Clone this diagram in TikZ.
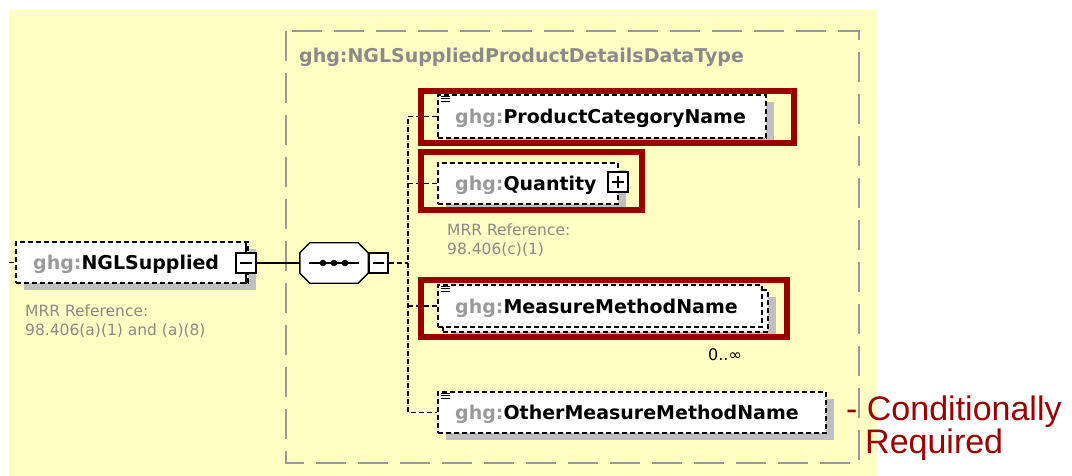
\documentclass[tikz,border=0pt]{standalone}
\usepackage{fontspec}
\setmainfont{DejaVu Sans}
\newfontfamily\arialf{Liberation Sans}
\usetikzlibrary{shadows}
\definecolor{bgyellow}{HTML}{FFFFC4}
\definecolor{hlred}{HTML}{990000}
\definecolor{shadegray}{HTML}{C0C0C0}
\definecolor{typegray}{HTML}{999999}
\definecolor{pfxgray}{HTML}{9A9A9A}
\definecolor{notegray}{HTML}{8A8A8A}
\newcommand\ghgpfx{\textcolor{pfxgray}{ghg:}}
\begin{document}
\begin{tikzpicture}[x=1pt,y=-1pt,
  elem/.style={rectangle, draw=black, line width=1.4pt, dash pattern=on 5pt off 3pt, fill=white, inner sep=0pt},
  shad/.style={drop shadow={shadow xshift=8pt, shadow yshift=-7pt, fill=shadegray, opacity=1}},
  elabel/.style={anchor=base west, inner sep=0pt, font=\bfseries\fontsize{19}{23}\selectfont},
  note/.style={anchor=north west, inner sep=0pt, align=left, text=notegray, font=\fontsize{15.5}{19}\selectfont},
  sq/.style={rectangle, draw=black, line width=1.4pt, fill=white, minimum width=20pt, minimum height=20pt, inner sep=0pt},
  minusbox/.style={sq, path picture={\draw[line width=1.4pt] ([xshift=4pt]path picture bounding box.west) -- ([xshift=-4pt]path picture bounding box.east);}},
  plusbox/.style={sq, path picture={\draw[line width=1.4pt] ([xshift=4pt]path picture bounding box.west) -- ([xshift=-4pt]path picture bounding box.east); \draw[line width=1.4pt] ([yshift=-4pt]path picture bounding box.north) -- ([yshift=4pt]path picture bounding box.south);}},
  seqbox/.style={rectangle, minimum width=68pt, minimum height=40pt, inner sep=0pt},
  conn/.style={line width=1.4pt, dash pattern=on 5pt off 3pt},
  solidconn/.style={line width=1.4pt},
  hl/.style={draw=hlred, line width=6pt},
  typebox/.style={draw=typegray, line width=2pt, dash pattern=on 30pt off 12pt},
  icon/.style={line width=1pt},
  redtext/.style={anchor=base west, inner sep=0pt, text=hlred, font=\arialf\fontsize{34}{33}\selectfont},
]
\useasboundingbox (0,0) rectangle (1072,476);
\fill[bgyellow] (9,10) rectangle (877,476);
\draw[typebox] (286,31) rectangle (859,463);
\node[anchor=base west, inner sep=0pt, text=notegray, font=\bfseries\fontsize{19}{23}\selectfont] (title) at (299,63) {ghg:NGLSuppliedProductDetailsDataType};

% NGLSupplied element
\node[elem, shad, minimum width=232pt, minimum height=41pt] (ngl) at (132,262.5) {};
\node[elabel] (ngllab) at (33,269.5) {\ghgpfx NGLSupplied};
\node[minusbox] (nglm) at (246,263) {};
\draw[solidconn] (nglm.north) -- (nglm.north |- ngl.north);
\draw[solidconn] (nglm.south) -- (nglm.south |- ngl.south);
\coordinate (nglin) at (9,262.5);
\draw[conn] (nglin) -- (ngl.west);
\node[note] (nglnote) at (25,305) {MRR Reference:\\98.406(a)(1) and (a)(8)};

% sequence compositor (octagon)
\node[seqbox] (seq) at (334,263) {};
\begin{scope}[shift={(9,9)}]
\fill[shadegray] ([xshift=10pt]seq.north west) -- ([xshift=-10pt]seq.north east) -- ([yshift=-10pt]seq.north east) -- ([yshift=10pt]seq.south east) -- ([xshift=-10pt]seq.south east) -- ([xshift=10pt]seq.south west) -- ([yshift=10pt]seq.south west) -- ([yshift=-10pt]seq.north west) -- cycle;
\end{scope}
\draw[line width=1.4pt, fill=white] ([xshift=10pt]seq.north west) -- ([xshift=-10pt]seq.north east) -- ([yshift=-10pt]seq.north east) -- ([yshift=10pt]seq.south east) -- ([xshift=-10pt]seq.south east) -- ([xshift=10pt]seq.south west) -- ([yshift=10pt]seq.south west) -- ([yshift=-10pt]seq.north west) -- cycle;
\draw[line width=1.4pt] ([xshift=9pt]seq.west) -- ([xshift=-9pt]seq.east);
\foreach \dx in {-11,0,11} \fill ([xshift=\dx pt]seq.center) circle (3.3pt);
\node[minusbox, minimum width=19pt] (seqm) at (378.5,263) {};
\draw[solidconn] (nglm.east) -- (seq.west);
\coordinate (trunk) at (408,263);
\draw[conn] (seqm.east) -- (trunk);

% children
\node[elem, shad, minimum width=328pt, minimum height=43pt] (pcn) at (602,116.5) {};
\node[elabel] (pcnlab) at (455,123.5) {\ghgpfx ProductCategoryName};

\node[elem, shad, minimum width=180pt, minimum height=41pt] (qty) at (528,183.5) {};
\node[elabel] (qtylab) at (455,190.5) {\ghgpfx Quantity};
\node[plusbox] (qtyp) at (618,182) {};
\node[note] (qtynote) at (447,224) {MRR Reference:\\98.406(c)(1)};

\node[elem, shad, minimum width=325pt, minimum height=42pt] (mmnback) at (605.5,311) {};
\node[elem, minimum width=324pt, minimum height=42pt] (mmn) at (600,306) {};
\node[elabel] (mmnlab) at (455,313) {\ghgpfx MeasureMethodName};
\node[anchor=base west, inner sep=0pt, font=\fontsize{16}{19}\selectfont] (card) at (708,360) {0..∞};

\node[elem, shad, minimum width=388pt, minimum height=41pt] (omn) at (632,412.5) {};
\node[elabel] (omnlab) at (455,419.5) {\ghgpfx OtherMeasureMethodName};

% simple-content icons
\foreach \n in {pcn,mmn,omn}
  \foreach \k in {0,1,2}
    \draw[icon] ([xshift=4pt,yshift={-2pt-2.6pt*\k}]\n.north west) -- ++(9,0);

% connectors from the sequence trunk
\draw[conn] (pcn.west) -- (pcn.west -| trunk) -- (omn.west -| trunk) -- (omn.west);
\draw[conn] (qty.west) -- (qty.west -| trunk);
\draw[conn] (mmn.west) -- (mmn.west -| trunk);

% highlight boxes
\draw[hl] (421,91) rectangle (794,143);
\draw[hl] (421,152) rectangle (642,210);
\draw[hl] (421,280) rectangle (787,337);

% annotation
\node[redtext] (cond) at (846,420) {- Conditionally};
\node[redtext] (req) at (865,453) {Required};
\end{tikzpicture}
\end{document}
